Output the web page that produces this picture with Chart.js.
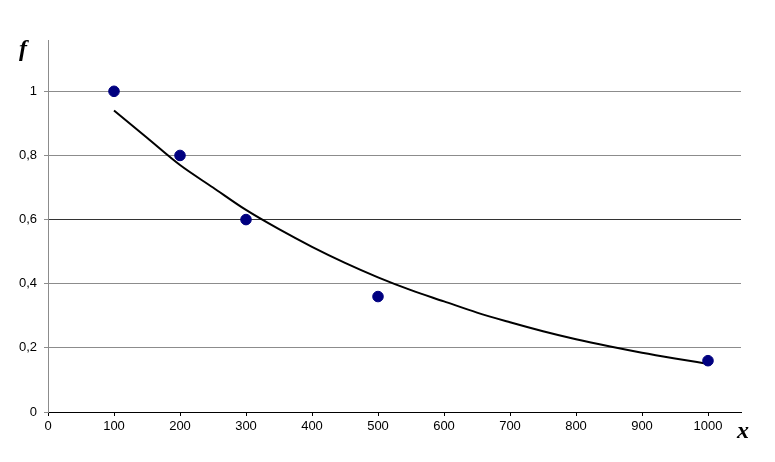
<!DOCTYPE html>
<html>
<head>
<meta charset="utf-8">
<script src="https://cdn.jsdelivr.net/npm/chart.js@4"></script>
<style>
  html, body { margin: 0; padding: 0; background: #fff; }
  #wrap { width: 775px; height: 462px; }
</style>
</head>
<body>
<div id="wrap"><canvas id="chart" width="775" height="462"></canvas></div>
<script>
// observed points
const pointX = [100, 200, 300, 500, 1000];
const pointY = [1, 0.8, 0.6, 0.36, 0.16];

// trend curve
const trendX = [100, 150, 200, 250, 300, 350, 400, 450, 500, 550, 600, 650, 700, 750, 800, 850, 900, 950, 1000];
const trendY = [0.94, 0.855, 0.77, 0.70, 0.63, 0.57, 0.515, 0.465, 0.42, 0.38, 0.345, 0.31, 0.28, 0.252, 0.227, 0.205, 0.185, 0.167, 0.15];

const yTicks = [0, 0.2, 0.4, 0.6, 0.8, 1];
const xTicks = [0, 100, 200, 300, 400, 500, 600, 700, 800, 900, 1000];

const labelFont = { family: 'Liberation Sans, Arial, sans-serif', size: 13 };

const axisTitles = {
    id: 'axisTitles',
    afterDraw(chart) {
        const ctx = chart.ctx;
        ctx.save();
        ctx.fillStyle = '#000';
        ctx.textAlign = 'center';
        ctx.textBaseline = 'middle';
        ctx.font = 'italic bold 24px "Liberation Serif", "Times New Roman", serif';
        ctx.fillText('f', 23, 50);
        ctx.fillText('x', 743, 432);
        ctx.restore();
    }
};

const gridColor = (c) => {
    if (!c.tick) return '#8c8c8c';
    if (c.tick.value === 0) return '#000';
    if (Math.abs(c.tick.value - 0.6) < 1e-9) return '#333';
    return '#8c8c8c';
};

const ctx = document.getElementById('chart').getContext('2d');
new Chart(ctx, {
    type: 'scatter',
    data: {
        datasets: [
            {
                label: 'trend',
                data: trendX.map((x, i) => ({ x: x, y: trendY[i] })),
                showLine: true,
                borderColor: '#000',
                borderWidth: 2,
                pointRadius: 0,
                cubicInterpolationMode: 'monotone',
                order: 2
            },
            {
                label: 'f',
                data: pointX.map((x, i) => ({ x: x, y: pointY[i] })),
                backgroundColor: '#000080',
                borderColor: '#000080',
                pointRadius: 5.3,
                order: 1
            }
        ]
    },
    options: {
        responsive: false,
        animation: false,
        layout: { padding: { top: 40, right: 34, left: 0, bottom: 0 } },
        plugins: {
            legend: { display: false },
            tooltip: { enabled: false }
        },
        scales: {
            x: {
                type: 'linear',
                min: 0,
                max: 1050,
                afterBuildTicks: (scale) => {
                    scale.ticks = xTicks.map(v => ({ value: v }));
                },
                afterFit: (scale) => { scale.height = 50; },
                ticks: {
                    color: '#000',
                    font: labelFont,
                    padding: 3,
                    maxRotation: 0,
                    autoSkip: false,
                    callback: (v) => String(v)
                },
                grid: {
                    display: true,
                    drawOnChartArea: false,
                    drawTicks: true,
                    tickLength: 4,
                    color: '#000'
                },
                border: { color: '#000', width: 1 }
            },
            y: {
                min: 0,
                max: 1.16,
                afterBuildTicks: (scale) => {
                    scale.ticks = yTicks.map(v => ({ value: v }));
                },
                afterFit: (scale) => { scale.width = 48; },
                ticks: {
                    color: '#000',
                    font: labelFont,
                    padding: 7,
                    callback: (v) => String(Math.round(v * 10) / 10).replace('.', ',')
                },
                grid: {
                    color: gridColor,
                    lineWidth: 1,
                    tickLength: 4,
                    tickColor: '#8c8c8c'
                },
                border: { color: '#8c8c8c', width: 1 }
            }
        }
    },
    plugins: [axisTitles]
});
</script>
</body>
</html>
